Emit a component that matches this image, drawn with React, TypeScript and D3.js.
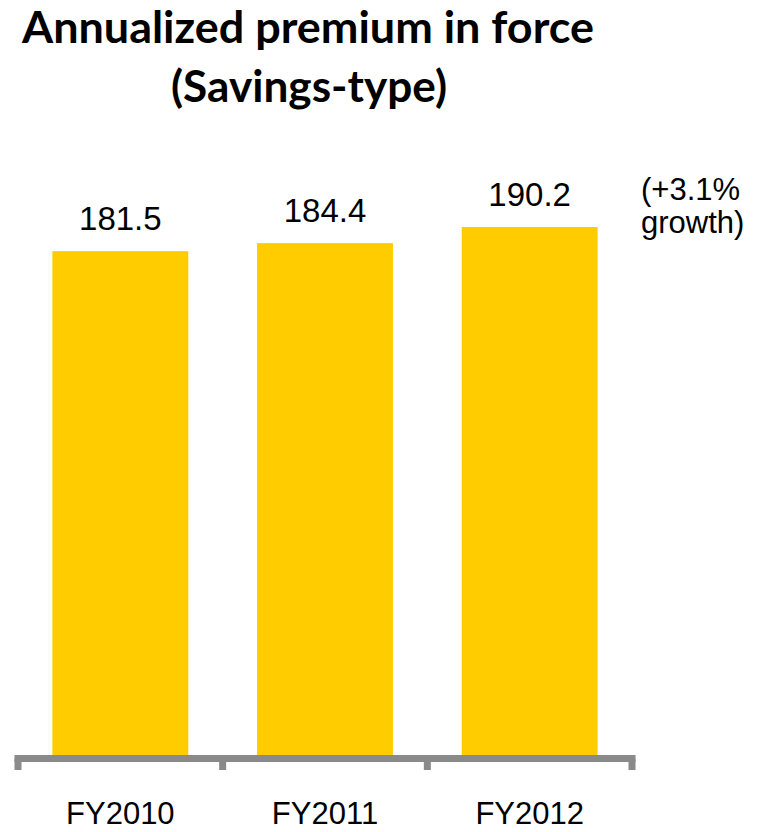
import React from "react";
import * as d3 from "d3";

const categories = ["FY2010", "FY2011", "FY2012"];
const values = [181.5, 184.4, 190.2];
const valueLabels = ["181.5", "184.4", "190.2"];
const titleLines = ["Annualized premium in force", "(Savings-type)"];
const noteLines = ["(+3.1%", "growth)"];

const W = 761;
const H = 832;

export default function App() {
  const x = d3
    .scaleBand<string>()
    .domain(categories)
    .range([18, 632])
    .paddingInner(0.336)
    .paddingOuter(0.168);
  const y = d3.scaleLinear().domain([0, 190.2]).range([755, 227]);
  const step = x.step();
  const axisY = 758.5;
  const tickXs = d3.range(categories.length + 1).map((i) => 18 + i * step);
  const axisColor = "#8a8a8a";
  const numFont = "'Liberation Sans', Arial, sans-serif";

  return (
    <svg
      width={W}
      height={H}
      viewBox={`0 0 ${W} ${H}`}
      style={{ position: "absolute", left: 0, top: 0, display: "block", background: "#fff" }}
    >
      <text
        x={308}
        y={43}
        textAnchor="middle"
        fontFamily="Lato, 'Open Sans', sans-serif"
        fontWeight={700}
        fontSize={43}
        textLength={572}
        lengthAdjust="spacingAndGlyphs"
        fill="#000"
      >
        {titleLines[0]}
      </text>
      <text
        x={309}
        y={102}
        textAnchor="middle"
        fontFamily="Lato, 'Open Sans', sans-serif"
        fontWeight={700}
        fontSize={43}
        textLength={276}
        lengthAdjust="spacingAndGlyphs"
        fill="#000"
      >
        {titleLines[1]}
      </text>

      {categories.map((c, i) => (
        <rect
          key={c}
          x={x(c)}
          y={y(values[i])}
          width={x.bandwidth()}
          height={y(0) - y(values[i])}
          fill="#FFCC00"
        />
      ))}

      {categories.map((c, i) => (
        <text
          key={"v" + c}
          x={(x(c) as number) + x.bandwidth() / 2}
          y={y(values[i]) - 21}
          textAnchor="middle"
          fontFamily={numFont}
          fontSize={33}
          fill="#000"
        >
          {valueLabels[i]}
        </text>
      ))}

      <line x1={tickXs[0] - 3.5} x2={tickXs[tickXs.length - 1] + 3.5} y1={axisY} y2={axisY} stroke={axisColor} strokeWidth={7} />
      {tickXs.map((tx, i) => (
        <line key={"t" + i} x1={tx} x2={tx} y1={axisY} y2={770} stroke={axisColor} strokeWidth={7} />
      ))}

      {categories.map((c) => (
        <text
          key={"l" + c}
          x={(x(c) as number) + x.bandwidth() / 2}
          y={824}
          textAnchor="middle"
          fontFamily={numFont}
          fontSize={31}
          fill="#000"
        >
          {c}
        </text>
      ))}

      {noteLines.map((t, i) => (
        <text
          key={"n" + i}
          x={641}
          y={200 + i * 33}
          fontFamily={numFont}
          fontSize={31}
          fill="#000"
        >
          {t}
        </text>
      ))}
    </svg>
  );
}
